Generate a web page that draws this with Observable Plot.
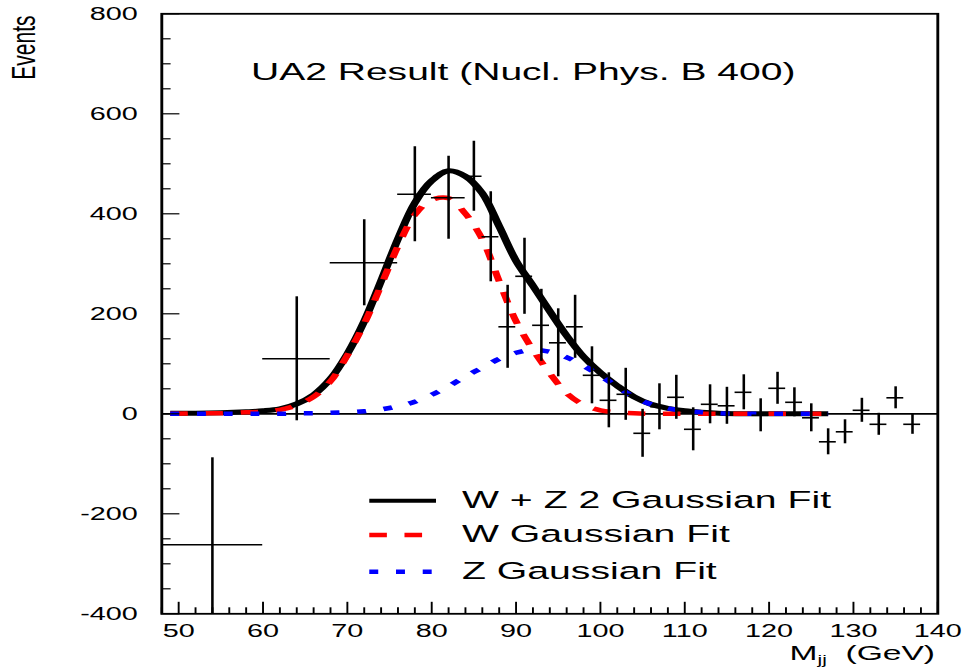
<!DOCTYPE html>
<html>
<head>
<meta charset="utf-8">
<script src="https://cdn.jsdelivr.net/npm/d3@7"></script>
<script src="https://cdn.jsdelivr.net/npm/@observablehq/plot@0.6"></script>
<style>
html, body { margin: 0; padding: 0; background: #ffffff; }
#chart { width: 963px; height: 668px; overflow: hidden; }
</style>
</head>
<body>
<div id="chart"></div>
<script>
// ---- data ----
const massCenters    = [54, 64, 72, 78, 82, 85, 87, 89, 91, 93, 95, 97, 99, 101, 103, 105, 107, 109, 111, 113, 115, 117, 119, 121, 123, 125, 127, 129, 131, 133, 135, 137];
const massHalfWidths = [6, 4, 4, 2, 2, 1, 1, 1, 1, 1, 1, 1, 1, 1, 1, 1, 1, 1, 1, 1, 1, 1, 1, 1, 1, 1, 1, 1, 1, 1, 1, 1];
const events         = [-262, 110, 302, 439, 432, 475, 354, 174, 275, 177, 142, 174, 77, 27, 39, -39, 14, 33, -31, 19, 16, 43, -3, 51, 23, -8, -56, -36, 7, -21, 32, -21];
const eventErrors    = [174, 124, 86, 95, 83, 70, 90, 83, 76, 72, 68, 63, 57, 55, 52, 48, 46, 44, 43, 39, 37, 35, 33, 32, 29, 28, 26, 24, 24, 22, 22, 20];

const fitMass  = [49, 52, 55, 58, 60, 62, 64, 66, 68, 70, 72, 74, 76, 78, 80, 82, 84, 86, 88, 90, 92, 94, 96, 98, 100, 102, 104, 106, 108, 110, 112, 114, 117, 120, 123, 127];
const fitTotal = [1, 1, 2, 4, 6, 10, 20, 38, 70, 120, 185, 266, 350, 422, 466, 486, 475, 441, 375, 306, 256, 205, 156, 114, 82, 56, 34, 19, 11, 6, 3, 1, 0, 0, 0, 0];
const fitW     = [0, 1, 1, 3, 4, 8, 17, 34, 65, 117, 180, 257, 335, 398, 428, 431, 400, 349, 265, 185, 128, 81, 41, 18, 7, 3, 1, 0, 0, 0, 0, 0, 0, 0, 0, 0];
const fitZ     = [0, 0, 0, 0, 0, 0, 1, 1, 2, 3, 5, 9, 15, 24, 38, 55, 75, 92, 110, 122, 128, 124, 113, 96, 76, 54, 33, 19, 11, 6, 3, 1, 0, 0, 0, 0];

const xTickValues = [50, 60, 70, 80, 90, 100, 110, 120, 130, 140];
const yTickValues = [-400, -200, 0, 200, 400, 600, 800];

const titleText   = "UA2 Result (Nucl. Phys. B 400)";
const yLabelText  = "Events";
const xLabelMain  = "M";
const xLabelSub   = "jj";
const xLabelUnit  = "\u00a0\u00a0(GeV)";
const legendLabels = ["W + Z 2 Gaussian Fit", "W Gaussian Fit", "Z Gaussian Fit"];
const legendColors = ["#000000", "#ff0000", "#0000ff"];
const legendDashes = [null, "11,11", "5.6,11.1"];

// ---- layout (drawn unstretched, then stretched horizontally like the reference) ----
const STRETCH = 1.6;
const W = 963 / STRETCH, H = 668;
const mL = 161 / STRETCH, mR = (963 - 937) / STRETCH, mT = 13.3, mB = 668 - 613.3;
const plotW = W - mL - mR, plotH = H - mT - mB;
const FONT = "'Liberation Sans', Arial, Helvetica, sans-serif";

const points = massCenters.map((m, i) => ({m, half: massHalfWidths[i], n: events[i], err: eventErrors[i]}));
const fits = fitMass.map((m, i) => ({m, total: fitTotal[i], w: fitW[i], z: fitZ[i]}));

const xMinor = d3.range(48, 141, 2).filter(v => !xTickValues.includes(v));
const yMinor = d3.range(-400, 801, 50).filter(v => !yTickValues.includes(v));

const chart = Plot.plot({
  width: W, height: H,
  marginLeft: mL, marginRight: mR, marginTop: mT, marginBottom: mB,
  style: {fontSize: "18px", fontFamily: FONT, color: "black", background: "white"},
  x: {domain: [48, 140], ticks: xTickValues, tickFormat: d => String(d), tickSize: 0, tickPadding: 10, label: null},
  y: {domain: [-400, 800], ticks: yTickValues, tickFormat: d => String(d), tickSize: 0, tickPadding: 15, label: null},
  marks: [
    Plot.ruleY([0], {stroke: "black", strokeWidth: 1.8}),
    Plot.line(fits, {x: "m", y: "total", stroke: "#000000", strokeWidth: 5, curve: "catmull-rom", strokeLinecap: "butt"}),
    Plot.line(fits, {x: "m", y: "w", stroke: "#ff0000", strokeWidth: 4.5, strokeDasharray: "11,11", curve: "catmull-rom", strokeLinecap: "butt"}),
    Plot.line(fits, {x: "m", y: "z", stroke: "#0000ff", strokeWidth: 4.5, strokeDasharray: "5.6,11.1", curve: "catmull-rom", strokeLinecap: "butt"}),
    Plot.ruleX(points, {x: "m", y1: d => d.n - d.err, y2: d => d.n + d.err, stroke: "black", strokeWidth: 1.6, clip: true}),
    Plot.ruleY(points, {y: "n", x1: d => d.m - d.half, x2: d => d.m + d.half, stroke: "black", strokeWidth: 1.6, clip: true}),
    Plot.ruleX(xTickValues, {x: d => d, insetTop: plotH - 11.5, stroke: "black", strokeWidth: 1.2}),
    Plot.ruleX(xMinor, {x: d => d, insetTop: plotH - 6, stroke: "black", strokeWidth: 1.2}),
    Plot.ruleY(yTickValues, {y: d => d, insetRight: plotW - 11.5, stroke: "black", strokeWidth: 1.2}),
    Plot.ruleY(yMinor, {y: d => d, insetRight: plotW - 6, stroke: "black", strokeWidth: 1.2}),
    Plot.frame({stroke: "black", strokeWidth: 1.8}),
    Plot.text([titleText], {frameAnchor: "top-left", dx: 326.5 - mL, dy: 72 - mT, text: d => d, fontSize: 24.4, textAnchor: "middle", lineAnchor: "middle", fill: "black"}),
    Plot.text([yLabelText], {frameAnchor: "top-left", dx: 14.6 - mL, dy: 15 - mT, text: d => d, fontSize: 21, rotate: -90, textAnchor: "end", lineAnchor: "middle", fill: "black"})
  ]
});

chart.setAttribute("viewBox", `0 0 ${W} ${H}`);
chart.setAttribute("width", 963);
chart.setAttribute("height", 668);
chart.setAttribute("preserveAspectRatio", "none");
chart.style.width = "963px";
chart.style.height = "668px";
chart.style.maxWidth = "none";
chart.style.display = "block";

const svg = d3.select(chart);

// legend
const legendRows = [500.7, 535, 571.7];
const lg = svg.append("g").attr("font-family", FONT).attr("font-size", 24.5).attr("text-anchor", "start");
legendLabels.forEach((label, i) => {
  lg.append("line")
    .attr("x1", 230.8).attr("x2", 272.5)
    .attr("y1", legendRows[i]).attr("y2", legendRows[i])
    .attr("stroke", legendColors[i])
    .attr("stroke-width", i === 0 ? 4 : 4.5)
    .attr("stroke-dasharray", legendDashes[i])
    .attr("stroke-linecap", "butt");
  lg.append("text")
    .attr("x", 288.75).attr("y", legendRows[i] - 1.5)
    .attr("dy", "0.35em")
    .attr("text-anchor", "start")
    .attr("fill", "black")
    .text(label);
});

// x axis label with subscript
const xl = svg.append("text")
  .attr("x", 584.4).attr("y", 660)
  .attr("text-anchor", "end")
  .attr("font-family", FONT).attr("font-size", 21)
  .attr("fill", "black");
xl.append("tspan").text(xLabelMain);
xl.append("tspan").attr("font-size", 13).attr("dy", 4).text(xLabelSub);
xl.append("tspan").attr("dy", -4).text(xLabelUnit);

document.getElementById("chart").appendChild(chart);
</script>
</body>
</html>
